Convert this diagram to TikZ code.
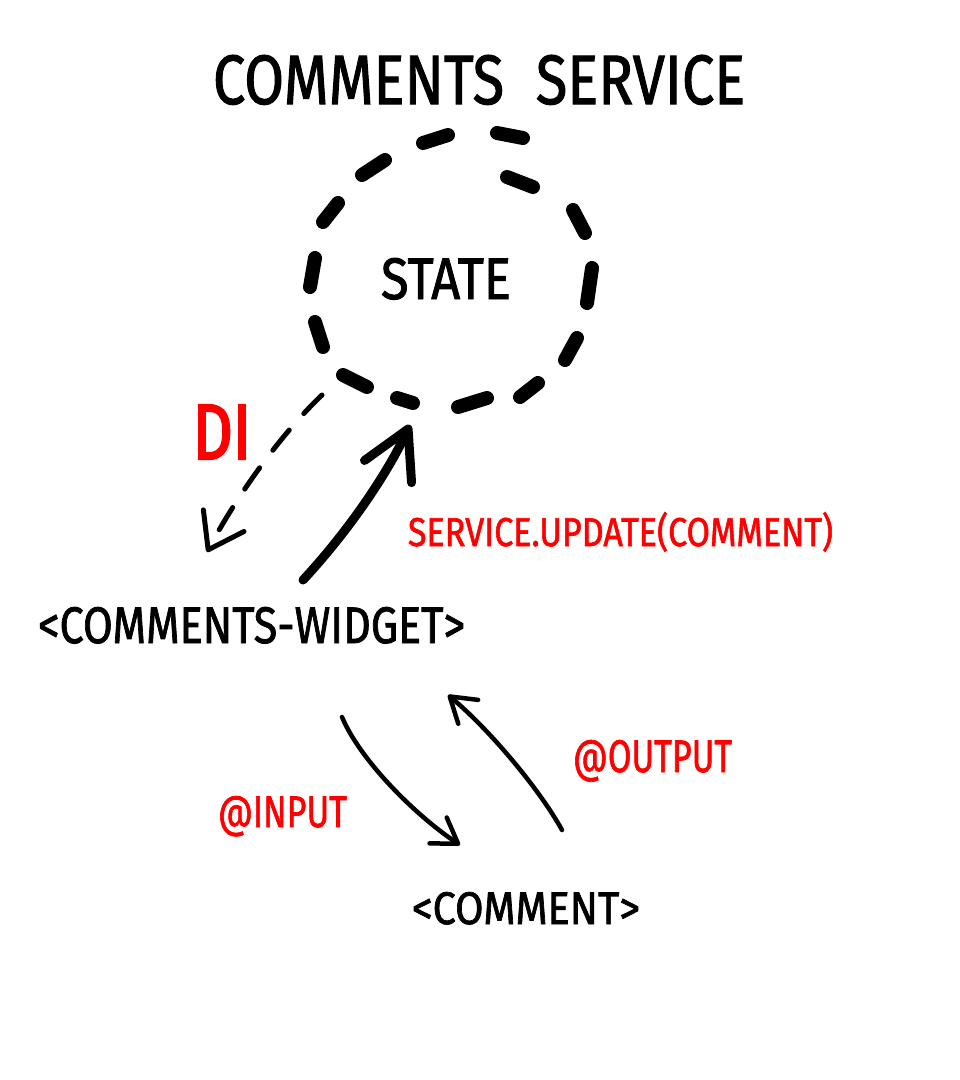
\documentclass[tikz,border=0pt]{standalone}
\usepackage{fontspec}
\setmainfont{Fira Sans}[FakeBold=1.6]
\usetikzlibrary{arrows.meta}
\definecolor{inkred}{RGB}{255,0,0}
\newcommand\fitto[3]{\resizebox{#1pt}{#2pt}{#3}}
\begin{document}
\begin{tikzpicture}[x=1pt,y=-1pt,
  txt/.style={anchor=base west,inner sep=0pt,outer sep=0pt},
  redtxt/.style={txt,text=inkred},
  statedash/.style={line width=14pt,line cap=round},
  conn/.style={line cap=round},
  diarrow/.style={conn,line width=5pt,dash pattern=on 26pt off 22pt,
    -{Straight Barb[round,length=33pt,width=46pt]}},
  updarrow/.style={conn,line width=9pt,
    -{Straight Barb[round,length=47pt,width=52pt]}},
  ioarrow/.style={conn,line width=4.5pt,
    -{Straight Barb[round,length=24pt,width=31pt]}}]
\useasboundingbox (0,0) rectangle (960,1080);
% texts / nodes
\node[txt] (title) at (213,104) {\fitto{532}{49}{COMMENTS\hspace{0.55em}SERVICE}};
\node[txt] (state) at (381,299) {\fitto{130}{41}{STATE}};
\node[txt] (widget) at (38,643) {\fitto{427}{36}{<COMMENTS-WIDGET>}};
\node[txt] (comment) at (412,924) {\fitto{228}{32}{<COMMENT>}};
\node[redtxt] (di) at (193,459) {\fitto{58}{54}{\addfontfeature{FakeBold=3}DI}};
\node[redtxt] (upd) at (408,546) {\fitto{425}{34}{SERVICE.UPDATE(COMMENT)}};
\node[redtxt] (inp) at (218,827) {\fitto{129}{31}{@INPUT}};
\node[redtxt] (outp) at (573,772) {\fitto{159}{32}{@OUTPUT}};
% hand-drawn dashed circle around the state
\foreach \ax/\ay/\bx/\by in {423/143/448/135, 497/133/523/138, 507/177/533/187,
  573/210/585/233, 592/268/587/303, 577/338/565/360, 538/383/520/397,
  487/398/458/407, 413/403/397/398, 367/387/343/375, 323/347/315/322,
  310/287/315/258, 323/222/338/203, 362/175/385/160}
  \draw[statedash] (\ax,\ay) -- (\bx,\by);
% connector end points
\coordinate (diS) at (322,395);
\coordinate (diE) at (207,552);
\coordinate (updS) at (303,580);
\coordinate (updE) at (410,425);
\coordinate (inS) at (342,717);
\coordinate (inE) at (460,845);
\coordinate (outS) at (562,830);
\coordinate (outE) at (448,695);
% connectors
\draw[diarrow] (diS) .. controls (285,430) and (240,490) .. (diE);
\draw[updarrow] (updS) .. controls (345,535) and (385,478) .. (updE);
\draw[ioarrow] (inS) .. controls (360,760) and (415,815) .. (inE);
\draw[ioarrow] (outS) .. controls (540,790) and (490,730) .. (outE);
\end{tikzpicture}
\end{document}
